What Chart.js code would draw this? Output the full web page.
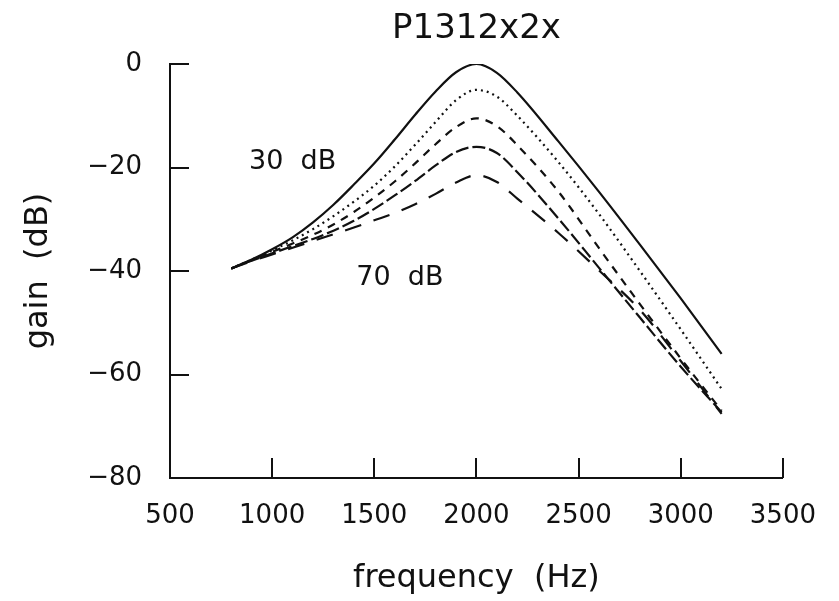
<!DOCTYPE html>
<html lang="en">
<head>
    <meta charset="UTF-8">
    <script src="https://cdn.jsdelivr.net/npm/chart.js"></script>
    <title>P1312x2x</title>
    <style>
        html, body { margin: 0; padding: 0; background: #fff; }
        #wrap { width: 839px; height: 601px; }
    </style>
</head>
<body>
    <div id="wrap"><canvas id="myChart" width="839" height="601"></canvas></div>
    <script>
        // frequency (Hz)
        let freqs = [800, 900, 1000, 1100, 1200, 1300, 1400, 1500, 1600, 1700, 1800, 1900, 2000,
                     2100, 2200, 2400, 2600, 2800, 3000, 3200];
        // gain (dB) per input level
        let gain30 = [-39.5, -37.8, -35.8, -33.5, -30.6, -27.2, -23.3, -19.2, -14.6, -9.8, -5.3, -1.6, 0.0,
                      -1.7, -5.5, -14.9, -24.7, -34.9, -45.3, -56.0];
        let gain40 = [-39.5, -37.8, -36.0, -34.1, -31.9, -29.4, -26.6, -23.5, -19.8, -15.6, -11.2, -7.0, -5.0,
                      -6.3, -10.0, -18.9, -29.0, -40.0, -51.3, -62.8];
        let gain50 = [-39.5, -37.9, -36.3, -34.7, -33.0, -31.0, -28.6, -25.8, -22.7, -19.2, -15.5, -12.2, -10.5,
                      -12.0, -15.7, -24.6, -35.6, -46.4, -56.9, -67.0];
        let gain60 = [-39.5, -38.0, -36.6, -35.2, -33.8, -32.2, -30.3, -28.0, -25.4, -22.6, -19.6, -17.0, -16.0,
                      -17.2, -20.9, -29.8, -39.4, -49.0, -58.5, -67.3];
        let gain70 = [-39.5, -38.1, -36.8, -35.5, -34.2, -32.9, -31.6, -30.2, -28.8, -27.1, -25.1, -22.9, -21.5,
                      -22.8, -26.0, -32.6, -39.9, -47.5, -57.4, -67.6];
        let xTicks = [500, 1000, 1500, 2000, 2500, 3000, 3500];
        let yTicks = [0, -20, -40, -60, -80];
        // text labels placed in data coordinates
        let notes = [
            { text: '30  dB', x: 1100, y: -19.0 },
            { text: '70  dB', x: 1625, y: -41.3 }
        ];

        const INK = '#111111';
        const FONT = "'DejaVu Sans', sans-serif";

        function pts(ys){
            return freqs.map(function(f, i){ return { x: f, y: ys[i] }; });
        }
        function ds(label, ys, dash){
            return {
                label: label,
                data: pts(ys),
                borderColor: INK,
                borderWidth: 2.2,
                borderDash: dash,
                pointRadius: 0,
                fill: false,
                cubicInterpolationMode: 'monotone'
            };
        }

        // ticks drawn inward, labels, title
        let plotExtras = {
            id: 'plotExtras',
            afterDraw: function(chart){
                let c = chart.ctx;
                let xs = chart.scales.x, ys = chart.scales.y;
                let a = chart.chartArea;
                c.save();
                c.strokeStyle = INK;
                c.lineWidth = 2;
                c.setLineDash([]);
                c.beginPath();
                for (let v of xTicks){
                    if (v === xs.min) continue;
                    let px = Math.round(xs.getPixelForValue(v));
                    c.moveTo(px, a.bottom);
                    c.lineTo(px, a.bottom - 20);
                }
                for (let v of yTicks){
                    if (v === ys.min) continue;
                    let py = Math.round(ys.getPixelForValue(v));
                    c.moveTo(a.left, py);
                    c.lineTo(a.left + 19, py);
                }
                c.stroke();

                c.fillStyle = INK;
                c.textAlign = 'center';
                c.textBaseline = 'middle';
                c.font = '27px ' + FONT;
                for (let n of notes){
                    c.fillText(n.text, xs.getPixelForValue(n.x), ys.getPixelForValue(n.y));
                }
                c.font = '34px ' + FONT;
                c.fillText('P1312x2x', xs.getPixelForValue(2000), 29);
                c.restore();
            }
        };

        let ctx = document.getElementById('myChart');
        let configs = {
            type: 'line',
            data: {
                datasets: [
                    ds('30 dB', gain30, []),
                    ds('40 dB', gain40, [2, 4]),
                    ds('50 dB', gain50, [8, 7]),
                    ds('60 dB', gain60, [13, 4]),
                    ds('70 dB', gain70, [17, 13])
                ]
            },
            options: {
                responsive: false,
                animation: false,
                layout: { padding: { top: 64, right: 49, left: 0, bottom: 0 } },
                plugins: {
                    legend: { display: false },
                    tooltip: { enabled: false },
                    title: { display: false }
                },
                scales: {
                    x: {
                        type: 'linear',
                        min: 500,
                        max: 3500,
                        afterBuildTicks: function(s){ s.ticks = xTicks.map(function(v){ return { value: v }; }); },
                        afterFit: function(s){ s.height = 123; },
                        grid: { display: true, drawOnChartArea: false, drawTicks: false },
                        border: { display: true, color: INK, width: 2 },
                        ticks: {
                            color: INK,
                            padding: 23,
                            maxRotation: 0,
                            font: { family: FONT, size: 26 },
                            callback: function(v){ return '' + v; }
                        },
                        title: {
                            display: true,
                            text: 'frequency  (Hz)',
                            color: INK,
                            padding: { top: 0, bottom: 3 },
                            font: { family: FONT, size: 32 }
                        }
                    },
                    y: {
                        min: -80,
                        max: 0,
                        afterBuildTicks: function(s){ s.ticks = yTicks.map(function(v){ return { value: v }; }); },
                        afterFit: function(s){ s.width = 170; },
                        grid: { display: true, drawOnChartArea: false, drawTicks: false },
                        border: { display: true, color: INK, width: 2 },
                        ticks: {
                            color: INK,
                            padding: 28,
                            font: { family: FONT, size: 26 },
                            callback: function(v){ return v < 0 ? '\u2212' + Math.abs(v) : '' + v; }
                        },
                        title: {
                            display: true,
                            text: 'gain  (dB)',
                            color: INK,
                            padding: { top: 19, bottom: 0 },
                            font: { family: FONT, size: 32 }
                        }
                    }
                }
            },
            plugins: [plotExtras]
        };
        let myChart = new Chart(ctx, configs);
    </script>
</body>
</html>
